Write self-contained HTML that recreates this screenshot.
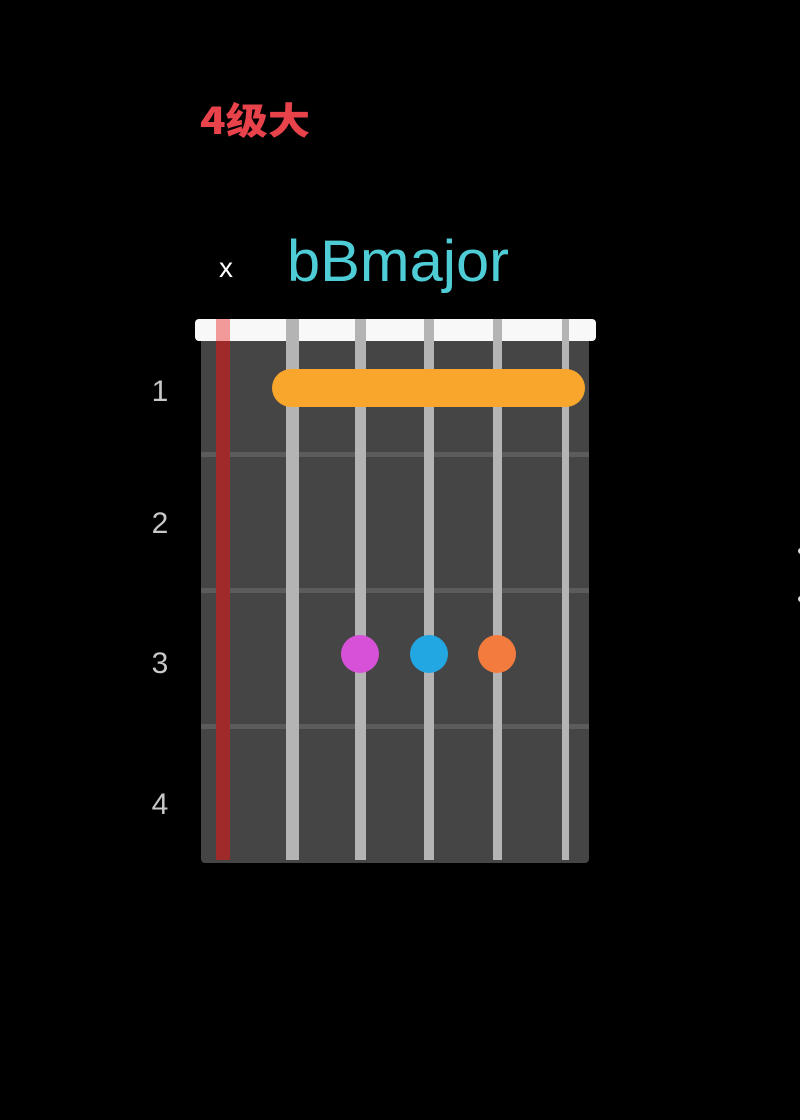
<!DOCTYPE html>
<html><head><meta charset="utf-8"><style>
html,body{margin:0;padding:0;background:#000;}
</style></head><body>
<svg width="800" height="1115" xmlns="http://www.w3.org/2000/svg">
<rect width="800" height="1115" fill="#000"/>
<text x="200" y="134" font-family="Noto Sans CJK SC, sans-serif" font-weight="900" font-size="37" fill="#e8424a" textLength="110" lengthAdjust="spacingAndGlyphs">4级大</text>
<text x="219" y="277" font-family="Liberation Sans, sans-serif" font-size="28" fill="#fff">x</text>
<text x="287" y="281" font-family="Liberation Sans, sans-serif" font-size="58" fill="#4fcdd6" textLength="222" lengthAdjust="spacingAndGlyphs">bBmajor</text>
<rect x="201" y="336" width="388" height="527" rx="4" fill="#454545"/>
<rect x="201" y="452" width="388" height="5" fill="#5c5c5c"/>
<rect x="201" y="588" width="388" height="5" fill="#5c5c5c"/>
<rect x="201" y="724" width="388" height="5" fill="#5c5c5c"/>
<rect x="195" y="319" width="401" height="22" rx="4" fill="#f8f8f8"/>
<rect x="216" y="319" width="14" height="22" fill="#f29a9a"/>
<rect x="216" y="341" width="14" height="519" fill="#9e2a2a"/>
<rect x="286" y="319" width="13" height="541" fill="#b4b4b4"/>
<rect x="355" y="319" width="11" height="541" fill="#b4b4b4"/>
<rect x="424" y="319" width="10" height="541" fill="#b4b4b4"/>
<rect x="493" y="319" width="9" height="541" fill="#b4b4b4"/>
<rect x="562" y="319" width="7" height="541" fill="#b4b4b4"/>
<rect x="272" y="369" width="313" height="38" rx="19" fill="#f9a62c"/>
<circle cx="360" cy="654" r="19" fill="#d651d8"/>
<circle cx="429" cy="654" r="19" fill="#23a7e2"/>
<circle cx="497" cy="654" r="19" fill="#f47b3e"/>
<g font-family="Liberation Sans, sans-serif" font-size="30" fill="#c8c8c8" text-anchor="middle">
<text x="160" y="401">1</text>
<text x="160" y="533">2</text>
<text x="160" y="673">3</text>
<text x="160" y="814">4</text>
</g>
<circle cx="801" cy="551" r="3" fill="#ddd"/>
<circle cx="801" cy="599" r="3" fill="#ddd"/>
</svg>
</body></html>
